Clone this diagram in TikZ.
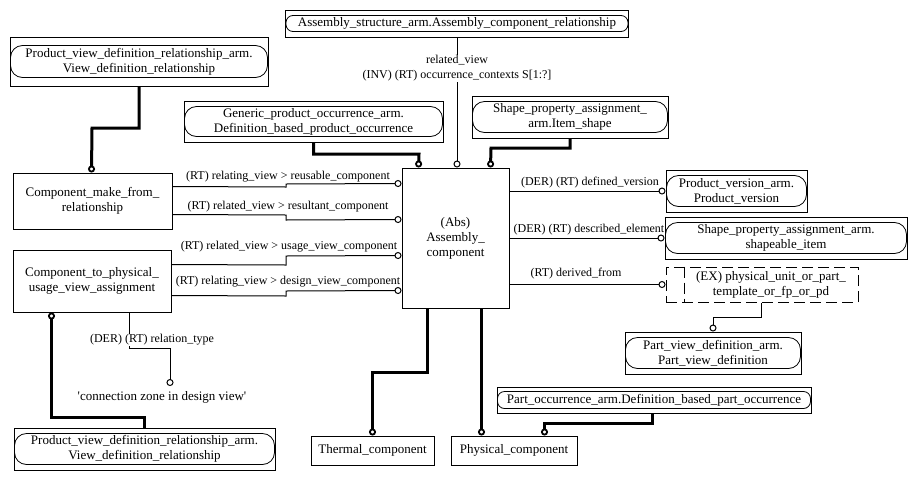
\documentclass[tikz,border=0pt]{standalone}
\usepackage{fontspec}
\setmainfont{Liberation Serif}
\usetikzlibrary{arrows.meta,calc}
\newcommand\bxf{\fontsize{13}{15}\selectfont}
\newcommand\lbf{\fontsize{12}{15}\selectfont}
\newcommand\capsule[3]{\draw[line width=0.8pt,rounded corners=#3] ($(#1.north west)+(1,#2)$) rectangle ($(#1.south east)+(-1,-#2)$);}
\begin{document}
\begin{tikzpicture}[x=1pt,y=-1pt,
  box/.style={draw, line width=1pt, inner sep=0pt, align=center, font=\bxf},
  dbox/.style={draw, line width=1pt, inner sep=0pt, dash pattern=on 11pt off 5pt},
  lab/.style={font=\lbf, inner sep=1pt, align=center},
  conn/.style={line width=1pt},
  heavy/.style={line width=3pt},
  oc/.tip={Circle[open,length=7pt,width=7pt,line width=1pt]},
  hc/.tip={Circle[open,length=7pt,width=7pt,line width=1.8pt]}]
\useasboundingbox (0,0) rectangle (916,480);
\fill[white] (0,0) rectangle (916,480);

% nodes
\node[box, minimum width=343pt, minimum height=27pt] (asr) at (457,23.5) {Assembly\_structure\_arm.Assembly\_component\_relationship};
\capsule{asr}{6}{7pt}
\node[box, minimum width=258pt, minimum height=49pt] (pvdra) at (139,61.5) {Product\_view\_definition\_relationship\_arm.\\View\_definition\_relationship};
\capsule{pvdra}{9}{12pt}
\node[box, minimum width=259pt, minimum height=41pt] (gpo) at (313.5,121.5) {Generic\_product\_occurrence\_arm.\\Definition\_based\_product\_occurrence};
\capsule{gpo}{6}{12pt}
\node[box, minimum width=196pt, minimum height=42pt] (spai) at (570,117) {Shape\_property\_assignment\_\\arm.Item\_shape};
\capsule{spai}{6}{12pt}
\node[box, minimum width=107pt, minimum height=140pt] (main) at (455.5,238) {(Abs)\\Assembly\_\\component};
\node[box, minimum width=159pt, minimum height=56pt] (cmfr) at (92.5,201) {Component\_make\_from\_\\relationship};
\node[box, minimum width=158pt, minimum height=62pt] (ctpuva) at (92,281) {Component\_to\_physical\_\\usage\_view\_assignment};
\node[box, minimum width=141pt, minimum height=42pt] (pv) at (736.5,191) {Product\_version\_arm.\\Product\_version};
\capsule{pv}{6}{12pt}
\node[box, minimum width=242pt, minimum height=42pt] (spas) at (786,238) {Shape\_property\_assignment\_arm.\\shapeable\_item};
\capsule{spas}{6}{12pt}
\node[dbox, minimum width=192pt, minimum height=35pt] (ex) at (762,284.5) {};
\draw[dbox] ($(ex.north west)+(19,0)$) -- ($(ex.south west)+(19,0)$);
\node[font=\bxf, align=center, inner sep=0pt] (extext) at (771,284.5) {(EX) physical\_unit\_or\_part\_\\template\_or\_fp\_or\_pd};
\node[box, minimum width=176pt, minimum height=42pt] (pvd) at (713,353) {Part\_view\_definition\_arm.\\Part\_view\_definition};
\capsule{pvd}{6}{12pt}
\node[box, minimum width=314pt, minimum height=26pt] (po) at (654,400) {Part\_occurrence\_arm.Definition\_based\_part\_occurrence};
\capsule{po}{5}{7pt}
\node[box, minimum width=123pt, minimum height=29pt] (thermal) at (372.5,450.5) {Thermal\_component};
\node[box, minimum width=126pt, minimum height=29pt] (physical) at (514,450.5) {Physical\_component};
\node[box, minimum width=261pt, minimum height=42pt] (pvdrb) at (144.5,449) {Product\_view\_definition\_relationship\_arm.\\View\_definition\_relationship};
\capsule{pvdrb}{6}{12pt}
\node[font=\bxf, inner sep=0pt] (cz) at (162,397) {\textquotesingle connection zone in design view\textquotesingle};
\coordinate (czpt) at (170,386);

% connectors
\draw[conn,-{oc}] (asr.south) -- (main.north -| asr.south);
\node[lab, fill=white] (l0) at (457,68.5) {related\_view\\(INV) (RT) occurrence\_contexts S[1:?]};

\draw[heavy,-{hc}] (gpo.south) |- (419,154) -- ($(main.north west)+(17,0)$);
\draw[heavy,-{hc}] (spai.south) |- (491,148) -- ($(main.north west)+(89,0)$);
\draw[heavy,-{hc}] (pvdra.south) |- (92,128) -- ($(cmfr.north west)+(79,0)$);

\draw[conn,-{oc}] ($(cmfr.north east)+(0,14)$) -- (286,187) -- (286,184) -- ($(main.north west)+(0,16)$);
\node[lab] (l1) at (288,177) {(RT) relating\_view > reusable\_component};
\draw[conn,-{oc}] ($(cmfr.north east)+(0,42)$) -- (286,215) -- (286,220) -- ($(main.north west)+(0,52)$);
\node[lab] (l2) at (288,207) {(RT) related\_view > resultant\_component};
\draw[conn,-{oc}] ($(ctpuva.north east)+(0,15)$) -- (286,265) -- (286,256) -- ($(main.north west)+(0,88)$);
\node[lab] (l3) at (289,247) {(RT) related\_view > usage\_view\_component};
\draw[conn,-{oc}] ($(ctpuva.north east)+(0,46)$) -- (286,296) -- (286,291) -- ($(main.north west)+(0,123)$);
\node[lab] (l4) at (288,282) {(RT) relating\_view > design\_view\_component};

\draw[conn,-{oc}] (main.east |- pv.west) -- (pv.west);
\node[lab] (l5) at (590,183) {(DER) (RT) defined\_version};
\draw[conn,-{oc}] (main.east |- spas.west) -- (spas.west);
\node[lab] (l6) at (589,230) {(DER) (RT) described\_element};
\draw[conn,-{oc}] (main.east |- ex.west) -- (ex.west);
\node[lab] (l7) at (576,274) {(RT) derived\_from};

\draw[conn,-{oc}] ($(ex.south west)+(96,0)$) -- ++(0,15) -| (pvd.north);
\draw[heavy,-{hc}] ($(po.south west)+(156,0)$) -- ++(0,10) -| ($(physical.north west)+(94,0)$);
\draw[heavy,-{hc}] ($(main.south west)+(26,0)$) -- ++(0,64) -| (thermal.north);
\draw[heavy,-{hc}] ($(main.south west)+(80,0)$) -- ($(physical.north west)+(31,0)$);
\draw[heavy,{hc}-] ($(ctpuva.south west)+(39,0)$) -- ++(0,105) -| (pvdrb.north);
\draw[conn,-{oc}] ($(ctpuva.south west)+(117,0)$) -- ++(0,36) -| (czpt);
\node[lab, fill=white] (l8) at (152,340) {(DER) (RT) relation\_type};
\end{tikzpicture}
\end{document}
